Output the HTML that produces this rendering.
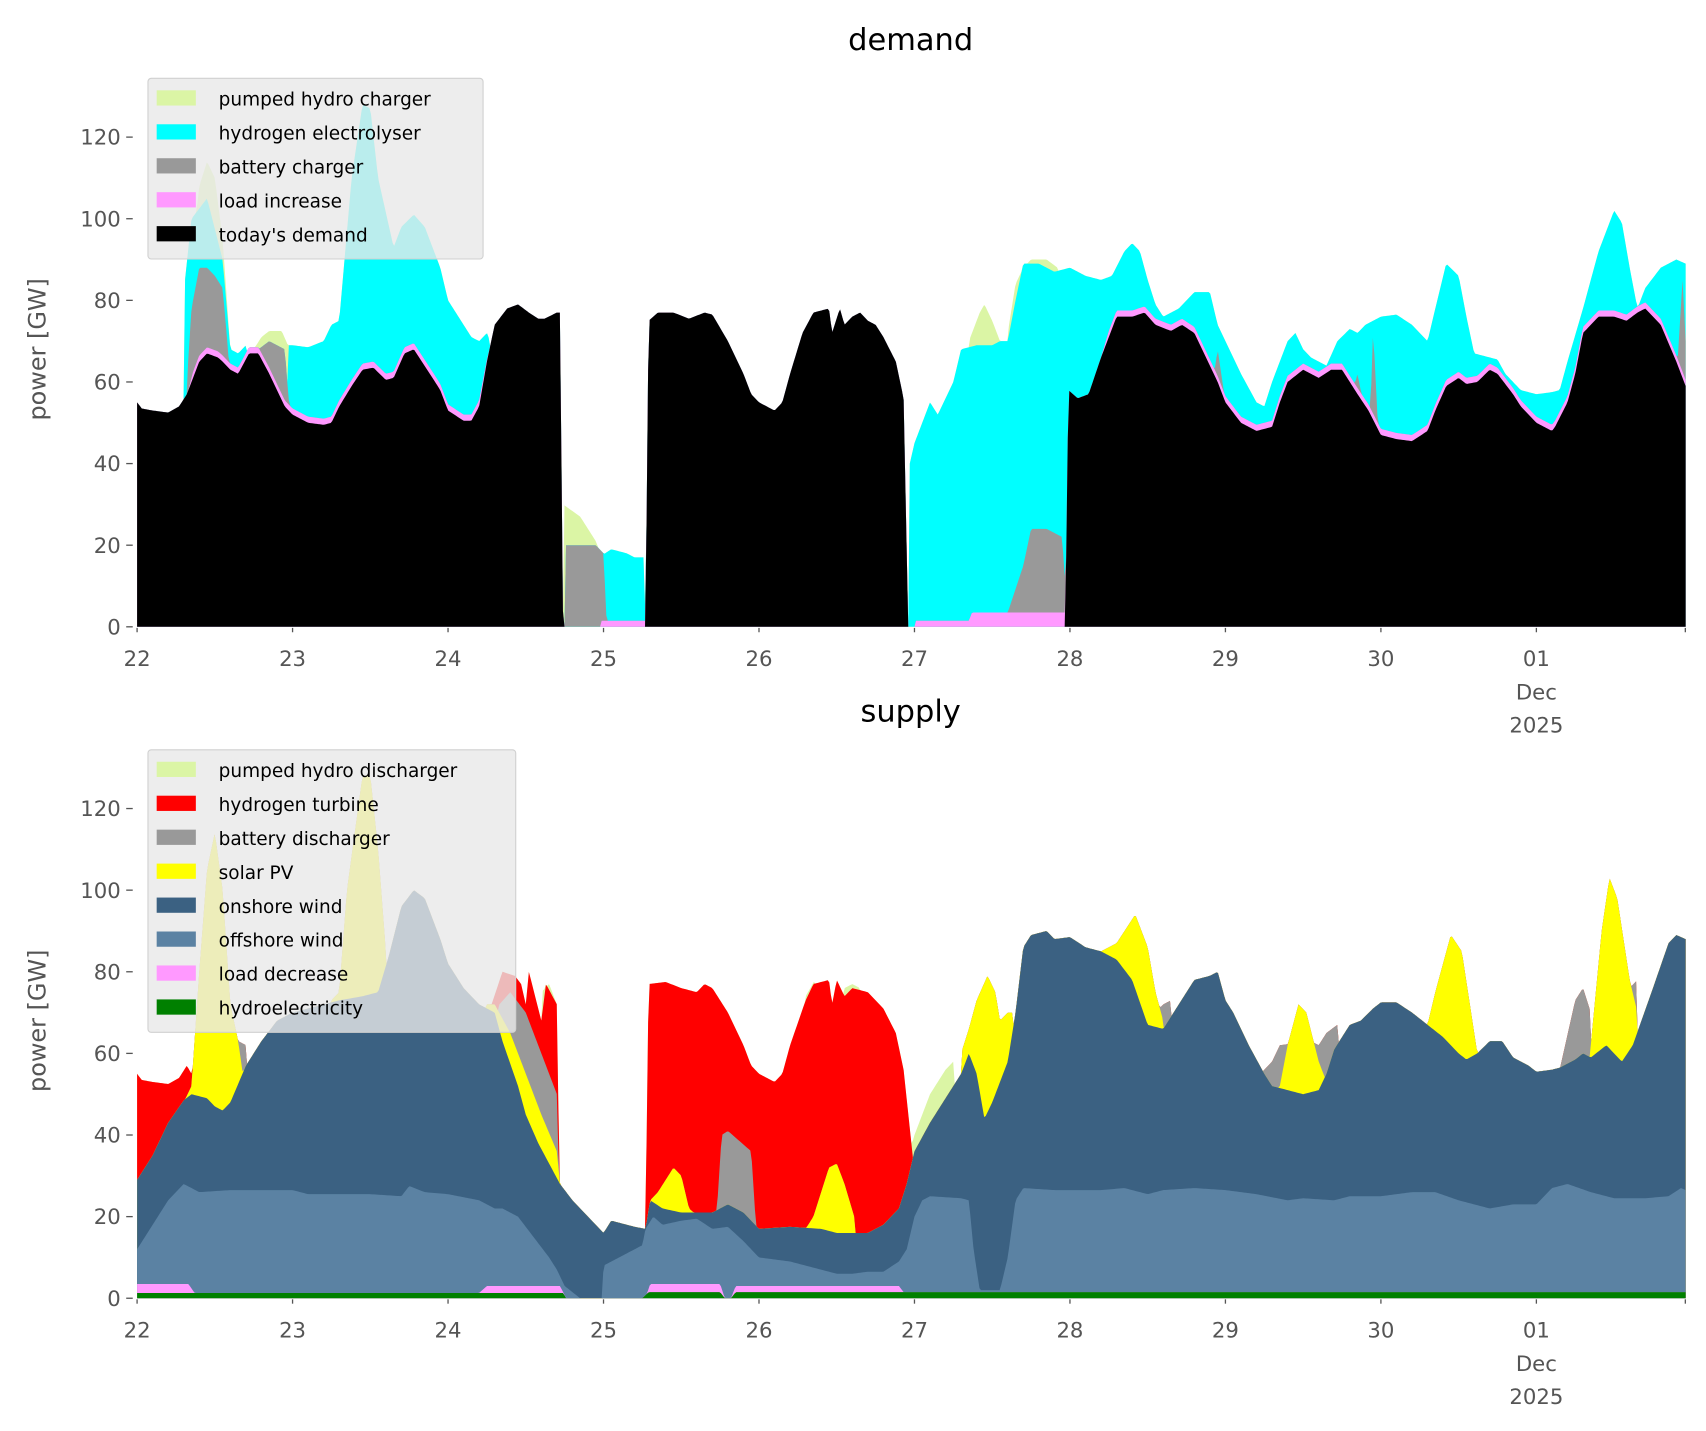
<!DOCTYPE html>
<html><head><meta charset="utf-8"><style>
html,body{margin:0;padding:0;background:#fff;}
svg{display:block;}
text{font-family:"DejaVu Sans","Liberation Sans",sans-serif;}
</style></head><body>
<svg id="s" width="1706" height="1431" viewBox="0 0 1568 1315" preserveAspectRatio="none" xmlns="http://www.w3.org/2000/svg">
<rect width="1568" height="1315" fill="#fff"/>
<g id="g1"></g><g id="g2"></g><g id="ax"></g>
</svg>
<script>
var X0=126,PD=142.9;
function X(d){return X0+(d-22)*PD;}
function mk(tag,attrs,txt,par){var e=document.createElementNS("http://www.w3.org/2000/svg",tag);for(var k in attrs)e.setAttribute(k,attrs[k]);if(txt!=null)e.textContent=txt;(par||document.getElementById('ax')).appendChild(e);return e;}
function interp(seg,d){if(d<seg[0][0]||d>seg[seg.length-1][0])return null;for(var i=1;i<seg.length;i++){if(d<=seg[i][0]){var a=seg[i-1],b=seg[i];var t=(b[0]===a[0])?1:(d-a[0])/(b[0]-a[0]);return a[1]+t*(b[1]-a[1]);}}return null;}
function val(segs,d){for(var i=0;i<segs.length;i++){var v=interp(segs[i],d);if(v!==null)return v;}return null;}
function draw(gid,Y0,layers){
 var g=document.getElementById(gid);var N=1000,d0=22,d1=31.96;var tops=[];var prev=[];
 for(var i=0;i<=N;i++)prev.push(0);
 layers.forEach(function(L){var cur=[];for(var i=0;i<=N;i++){var d=d0+(d1-d0)*i/N;var v=val(L.segs,d);if(L.add){v=(v===null)?null:prev[i]+v;}cur.push(v===null?prev[i]:Math.max(v,prev[i]));}tops.push(cur);prev=cur;});
 for(var li=layers.length-1;li>=0;li--){var c=tops[li];var p="M"+X(d0)+","+Y0;for(var i=0;i<=N;i++){var d=d0+(d1-d0)*i/N;p+="L"+X(d).toFixed(2)+","+(Y0-3.75*c[i]).toFixed(2);}p+="L"+X(d1)+","+Y0+"Z";mk("path",{d:p,fill:layers[li].c},null,g);}
}
var D=[[[22,55],[22.03,53.5],[22.1,53],[22.2,52.5],[22.27,54],[22.32,57],[22.35,60],[22.4,65],[22.45,67],[22.52,66],[22.55,65],[22.6,63],[22.65,62],[22.72,67],[22.78,67],[22.85,62],[22.9,58],[22.95,54],[23,52],[23.1,50],[23.2,49.5],[23.25,50],[23.3,54],[23.38,59],[23.45,63],[23.52,63.5],[23.6,60.5],[23.65,61],[23.72,67],[23.78,68],[23.9,61],[23.95,58],[24,53],[24.1,50.5],[24.15,50.5],[24.2,54],[24.25,65],[24.3,74],[24.38,78],[24.45,79],[24.52,77],[24.58,75.5],[24.62,75.5],[24.7,77],[24.72,77],[24.74,0],[25.27,0],[25.29,75],[25.35,77],[25.45,77],[25.55,75.5],[25.65,77],[25.7,76.5],[25.8,70],[25.9,62],[25.95,57],[26,55],[26.1,53],[26.15,55],[26.2,62],[26.28,72],[26.35,77],[26.45,78],[26.47,72],[26.52,78],[26.55,74],[26.6,76],[26.65,77],[26.7,75],[26.75,74],[26.8,71],[26.88,65],[26.93,56],[26.96,0],[27.97,0],[27.99,58],[28.05,56],[28.12,57],[28.2,66],[28.3,76],[28.4,76],[28.48,77],[28.55,74],[28.65,72.5],[28.72,74],[28.8,72],[28.9,64],[28.95,60],[29,55],[29.1,50],[29.2,48],[29.3,49],[29.35,55],[29.4,60],[29.5,63],[29.6,61],[29.68,63],[29.75,63],[29.85,57],[29.92,53],[30,47],[30.1,46],[30.2,45.5],[30.3,48],[30.35,53],[30.42,59],[30.5,61],[30.55,59.5],[30.62,60],[30.7,63],[30.75,62],[30.85,57],[30.9,54],[31,50],[31.1,48],[31.12,49],[31.2,55],[31.25,62],[31.3,72],[31.4,76],[31.5,76],[31.58,75],[31.65,77],[31.7,78],[31.8,74],[31.9,65],[31.96,59]]];
var PI=[[[22.33,0],[22.36,1.5],[24.2,1.5],[24.27,0]],[[24.98,1.5],[25.27,1.5]],[[27.0,1.5],[27.35,1.5],[27.37,3.5],[27.97,3.5]],[[28.2,0],[28.25,1.5],[31.96,1.5]]];
var GB=[[[22.32,60],[22.35,78],[22.4,88],[22.45,88],[22.5,86],[22.55,83],[22.58,70],[22.6,60]],[[22.78,68],[22.85,70],[22.95,68],[22.97,58],[22.99,50]],[[24.75,20],[24.95,20],[25,18],[25.02,1]],[[27.6,3.5],[27.7,15],[27.75,24],[27.85,24],[27.95,22],[27.97,10]],[[28.9,55],[28.95,68],[29.0,55]],[[29.8,55],[29.85,62],[29.9,52],[29.93,50],[29.95,73],[29.98,50]],[[31.9,60],[31.94,85],[31.96,70]]];
var CY=[[[22.3,82],[22.35,100],[22.45,105],[22.55,90],[22.6,68],[22.65,67],[22.7,69]],[[22.97,69],[23,69],[23.1,68.5],[23.2,70],[23.25,74],[23.3,75],[23.38,110],[23.45,128],[23.5,127],[23.55,110],[23.65,93],[23.7,98],[23.78,101],[23.85,98],[23.95,88],[24,80],[24.1,74],[24.15,71],[24.2,70],[24.25,72],[24.27,70]],[[24.97,17],[25.05,19],[25.15,18],[25.2,17],[25.26,17],[25.27,0]],[[26.97,40],[27,45],[27.05,50],[27.1,55],[27.15,52],[27.2,56],[27.25,60],[27.3,68],[27.4,69],[27.5,69],[27.55,70],[27.6,70],[27.65,80],[27.7,89],[27.8,89],[27.9,87],[28,88],[28.1,86],[28.2,85],[28.27,86],[28.35,92],[28.4,94],[28.45,92],[28.5,85],[28.55,79],[28.6,76],[28.7,78],[28.8,82],[28.9,82],[28.95,74],[29,70],[29.1,62],[29.2,55],[29.25,54],[29.3,60],[29.4,70],[29.45,72],[29.5,68],[29.55,66],[29.6,65],[29.65,64],[29.72,70],[29.8,73],[29.85,72],[29.9,74],[30,76],[30.1,76.5],[30.2,74],[30.25,72],[30.3,70],[30.35,78],[30.42,89],[30.5,86],[30.55,76],[30.6,67],[30.7,66],[30.75,65.5],[30.8,62],[30.85,60],[30.9,58],[31,57],[31.1,57.5],[31.15,58],[31.2,65],[31.3,78],[31.4,92],[31.5,102],[31.55,99],[31.6,88],[31.65,78],[31.7,83],[31.8,88],[31.9,90],[31.96,89]]];
var PH=[[[22.32,80],[22.4,108],[22.45,114],[22.5,110],[22.55,95],[22.6,68]],[[22.75,68],[22.8,71],[22.85,72.5],[22.93,72.5],[22.97,69]],[[24.74,30],[24.85,27],[24.95,21],[24.98,18]],[[27.35,70],[27.42,77],[27.45,79],[27.5,75],[27.55,70]],[[27.6,72],[27.65,84],[27.7,88],[27.75,90],[27.85,90],[27.92,88]]];
draw("g1",576,[{segs:D,c:"#000000"},{segs:PI,c:"#ff99ff",add:1},{segs:GB,c:"#999999"},{segs:CY,c:"#00ffff"},{segs:PH,c:"#dbf5a5"}]);
var HY=[[[22,1.3],[24.74,1.3],[24.76,0]],[[25.25,0],[25.29,1.5],[25.75,1.5],[25.78,0],[25.82,0],[25.85,1.5],[31.96,1.5]]];
var LD=[[[22,3.5],[22.33,3.5],[22.37,1.3]],[[24.2,1.3],[24.25,3],[24.72,3],[24.76,0]],[[25.27,0],[25.3,3.5],[25.75,3.5],[25.78,0],[25.82,0],[25.85,3],[26.9,3],[26.93,1.5]]];
var OF=[[[22,12],[22.1,18],[22.2,24],[22.3,28],[22.35,27],[22.4,26],[22.6,26.5],[23,26.5],[23.1,25.5],[23.5,25.5],[23.7,25],[23.75,27.5],[23.85,26],[24,25.5],[24.2,24],[24.3,22],[24.35,22],[24.45,20],[24.55,15],[24.65,10],[24.7,7],[24.75,3],[24.85,0],[24.99,0],[25,8],[25.15,11],[25.25,13],[25.27,17],[25.32,20],[25.38,18],[25.5,19],[25.6,19.5],[25.7,17],[25.8,17.5],[25.9,14],[26,10],[26.2,9],[26.3,8],[26.4,7],[26.5,6],[26.6,6],[26.7,6.5],[26.8,6.5],[26.9,9],[26.95,12],[27,20],[27.05,24],[27.1,25],[27.3,24.5],[27.35,24],[27.38,12],[27.42,2],[27.55,2],[27.6,10],[27.65,24],[27.7,27],[27.9,26.5],[28.2,26.5],[28.35,27],[28.5,25.5],[28.6,26.5],[28.8,27],[29,26.5],[29.2,25.5],[29.4,24],[29.5,24.5],[29.7,24],[29.8,25],[30,25],[30.2,26],[30.35,26],[30.5,24],[30.7,22],[30.85,23],[31,23],[31.1,27],[31.2,28],[31.35,26],[31.5,24.5],[31.7,24.5],[31.85,25],[31.93,27],[31.96,26.5]]];
var ON=[[[22,29],[22.1,35],[22.2,43],[22.3,48.5],[22.35,50],[22.45,49],[22.5,47],[22.55,46],[22.6,48],[22.7,57],[22.8,63],[22.9,68],[23,70],[23.1,71],[23.3,73],[23.45,74],[23.55,75],[23.62,84],[23.7,96],[23.78,100],[23.85,98],[23.95,88],[24,82],[24.1,76],[24.2,72],[24.3,70],[24.35,63],[24.45,52],[24.5,45],[24.58,38],[24.65,33],[24.72,28],[24.8,24],[24.9,20],[25,16],[25.05,19],[25.2,17.5],[25.27,17],[25.3,24],[25.38,22],[25.5,21],[25.7,21],[25.8,23],[25.9,21],[26,17],[26.2,17.5],[26.4,17],[26.5,16],[26.7,16],[26.8,18],[26.9,22],[26.95,28],[27,36],[27.1,43],[27.2,49],[27.3,55],[27.35,60],[27.4,55],[27.45,44],[27.5,48],[27.6,58],[27.65,70],[27.7,86],[27.75,89],[27.85,90],[27.9,88],[28,88.5],[28.1,86],[28.2,85],[28.3,83],[28.4,78],[28.5,67],[28.6,66],[28.7,72],[28.8,78],[28.9,79],[28.95,80],[29,73],[29.05,70],[29.15,62],[29.25,55],[29.3,52],[29.4,51],[29.5,50],[29.6,51],[29.65,55],[29.7,61],[29.8,67],[29.87,68],[29.95,71],[30,72.5],[30.1,72.5],[30.2,70],[30.3,67],[30.4,64],[30.5,60],[30.55,58.5],[30.62,60],[30.7,63],[30.78,63],[30.85,59],[30.95,57],[31,55.5],[31.1,56],[31.15,56.5],[31.25,58.5],[31.3,60],[31.35,59],[31.45,62],[31.55,58],[31.62,62],[31.75,76],[31.85,87],[31.9,89],[31.96,88]]];
var SO=[[[22.3,48],[22.35,52],[22.4,80],[22.45,105],[22.5,114],[22.55,100],[22.6,72],[22.65,63],[22.68,55]],[[23.25,73],[23.3,75],[23.35,100],[23.45,128],[23.5,128],[23.55,110],[23.6,85]],[[24.25,72],[24.3,72],[24.4,65],[24.5,55],[24.6,45],[24.7,36],[24.72,28]],[[25.3,24],[25.35,26],[25.45,32],[25.5,30],[25.55,22],[25.58,21]],[[26.3,17],[26.35,20],[26.45,32],[26.5,33],[26.55,28],[26.62,19]],[[27.3,60],[27.35,66],[27.4,73],[27.47,79],[27.52,75],[27.55,68],[27.6,70],[27.63,70]],[[28.2,85],[28.3,87],[28.42,94],[28.5,86],[28.55,75],[28.6,68]],[[29.35,52],[29.4,62],[29.47,72],[29.52,70],[29.6,58],[29.63,55]],[[30.3,67],[30.35,75],[30.45,89],[30.52,85],[30.6,65],[30.62,60]],[[31.35,62],[31.42,90],[31.47,103],[31.52,98],[31.6,78],[31.65,70]]];
var BA=[[[22.55,45],[22.6,55],[22.65,63],[22.7,62]],[[24.33,72],[24.4,75],[24.5,70],[24.6,60],[24.7,50],[24.72,20]],[[25.73,22],[25.76,40],[25.8,41],[25.95,36],[25.98,18]],[[28.55,70],[28.6,72],[28.65,73]],[[29.25,56],[29.3,58],[29.35,62],[29.55,63],[29.6,62],[29.65,65],[29.72,67]],[[30.55,62],[30.6,64]],[[31.15,56],[31.25,73],[31.3,76],[31.35,70]],[[31.6,76],[31.65,78]]];
var RE=[[[22,55],[22.03,53.5],[22.1,53],[22.2,52.5],[22.27,54],[22.32,57],[22.35,55]],[[24.28,72],[24.35,80],[24.43,79],[24.47,77],[24.5,72],[24.52,80],[24.6,68],[24.63,77],[24.7,72],[24.72,20]],[[25.27,18],[25.29,77],[25.4,77.5],[25.5,76],[25.6,75],[25.65,77],[25.7,76],[25.8,70],[25.9,62],[25.95,57],[26,55],[26.1,53],[26.15,55],[26.2,62],[26.3,73],[26.35,77],[26.45,78],[26.47,72],[26.5,78],[26.55,74],[26.6,76],[26.7,75],[26.8,71],[26.88,65],[26.93,56],[26.98,38]]];
var PS=[[[24.6,75],[24.65,77],[24.7,72]],[[26.3,74],[26.36,78]],[[26.55,76],[26.6,77],[26.65,76]],[[26.97,36],[27,40],[27.1,50],[27.2,56],[27.25,58]]];
draw("g2",1193,[{segs:HY,c:"#008000"},{segs:LD,c:"#ff99ff"},{segs:OF,c:"#5b82a3"},{segs:ON,c:"#3b6182"},{segs:SO,c:"#ffff00"},{segs:BA,c:"#999999"},{segs:RE,c:"#ff0000"},{segs:PS,c:"#dbf5a5"}]);
function axes(Y0,title,ty,legend,lx,ly,lw){
 mk("text",{x:837,y:ty,"text-anchor":"middle","font-size":28,fill:"#000"},title);
 for(var v=0;v<=120;v+=20){var y=Y0-3.75*v;mk("line",{x1:116,x2:122,y1:y,y2:y,stroke:"#555","stroke-width":1.2});mk("text",{x:111,y:y+7,"text-anchor":"end","font-size":19.5,fill:"#555"},v);}
 mk("text",{x:0,y:0,"font-size":22,fill:"#555","text-anchor":"middle",transform:"translate(42,"+(Y0-255)+") rotate(-90)"},"power [GW]");
 var labs=["22","23","24","25","26","27","28","29","30","01"];
 for(var i=0;i<10;i++){var x=X(22+i);mk("line",{x1:x,x2:x,y1:Y0+1,y2:Y0+5,stroke:"#555","stroke-width":1.2});mk("text",{x:x,y:Y0+36,"text-anchor":"middle","font-size":19.5,fill:"#555"},labs[i]);}
 mk("line",{x1:1549,x2:1549,y1:Y0+1,y2:Y0+5,stroke:"#555","stroke-width":1.2});
 mk("text",{x:X(31),y:Y0+67,"text-anchor":"middle","font-size":19.5,fill:"#555"},"Dec");
 mk("text",{x:X(31),y:Y0+97,"text-anchor":"middle","font-size":19.5,fill:"#555"},"2025");
 var h=10+legend.length*31.2;
 mk("rect",{x:lx,y:ly,width:lw,height:h,rx:3,fill:"#e8e8e8","fill-opacity":0.8,stroke:"#d0d0d0","stroke-width":1});
 legend.forEach(function(L,i){var y=ly+8+i*31.2;mk("rect",{x:lx+8,y:y+3,width:36,height:14,fill:L[1]});mk("text",{x:lx+65,y:y+17,"font-size":17,fill:"#000"},L[0]);});
}
axes(576,"demand",46,[["pumped hydro charger","#dbf5a5"],["hydrogen electrolyser","#00ffff"],["battery charger","#999999"],["load increase","#ff99ff"],["today's demand","#000000"]],136,72,308);
axes(1193,"supply",663,[["pumped hydro discharger","#dbf5a5"],["hydrogen turbine","#ff0000"],["battery discharger","#999999"],["solar PV","#ffff00"],["onshore wind","#3b6182"],["offshore wind","#5b82a3"],["load decrease","#ff99ff"],["hydroelectricity","#008000"]],136,689,338);
</script>
</body></html>
